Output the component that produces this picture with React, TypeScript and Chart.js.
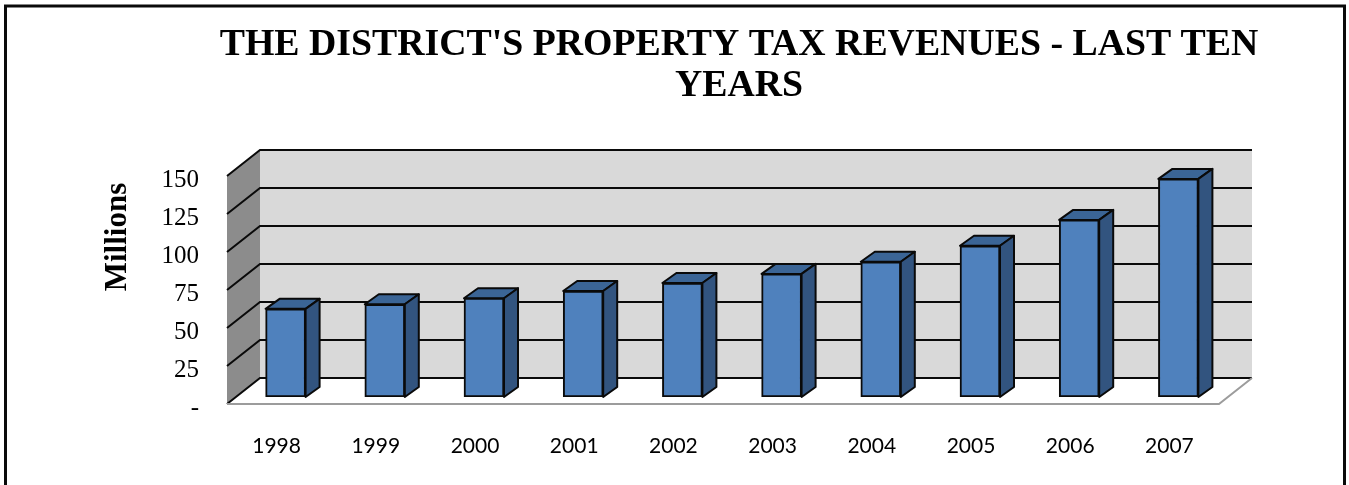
import React, { useEffect, useRef } from "react";
import { Chart, registerables } from "chart.js";

Chart.register(...registerables);

const categories = ["1998", "1999", "2000", "2001", "2002", "2003", "2004", "2005", "2006", "2007"];
const revenues = [58, 61, 65, 69.7, 75, 81, 89, 99.5, 116.5, 143.5];
const titleLines = ["THE DISTRICT'S PROPERTY TAX REVENUES - LAST TEN", "YEARS"];
const yAxisLabel = "Millions";

const SERIF = '"Liberation Serif", serif';

const wallsAndDepth = {
  id: "wallsAndDepth",
  beforeDatasetsDraw(chart: any) {
    const { ctx, chartArea, scales } = chart;
    const y = scales.y;
    const { left, right } = chartArea;
    const back = { dx: 24, dy: -19 };
    const front = { dx: -9, dy: 7 };
    const yMax = y.getPixelForValue(150);
    const y0 = y.getPixelForValue(0);
    ctx.save();
    // back wall
    ctx.fillStyle = "#D9D9D9";
    ctx.fillRect(left + back.dx, yMax + back.dy, right - left, y0 - yMax);
    // side wall
    ctx.fillStyle = "#8C8C8C";
    ctx.beginPath();
    ctx.moveTo(left + front.dx, yMax + front.dy);
    ctx.lineTo(left + back.dx, yMax + back.dy);
    ctx.lineTo(left + back.dx, y0 + back.dy);
    ctx.lineTo(left + front.dx, y0 + front.dy);
    ctx.closePath();
    ctx.fill();
    // gridlines on both walls
    ctx.strokeStyle = "#0A0A0A";
    ctx.lineWidth = 2;
    for (const t of y.ticks) {
      const py = y.getPixelForValue(t.value);
      ctx.beginPath();
      ctx.moveTo(left + front.dx, py + front.dy);
      ctx.lineTo(left + back.dx, py + back.dy);
      ctx.lineTo(right + back.dx, py + back.dy);
      ctx.stroke();
    }
    // floor edge
    ctx.strokeStyle = "#9C9C9C";
    ctx.lineWidth = 2;
    ctx.beginPath();
    ctx.moveTo(left + front.dx, y0 + front.dy);
    ctx.lineTo(right + front.dx, y0 + front.dy);
    ctx.lineTo(right + back.dx, y0 + back.dy);
    ctx.stroke();
    // side faces of the bars
    const depthX = 14;
    const depthY = -10;
    const meta = chart.getDatasetMeta(0);
    ctx.strokeStyle = "#0A0A0A";
    ctx.lineWidth = 2;
    ctx.lineJoin = "round";
    for (const bar of meta.data) {
      const l = bar.x - bar.width / 2;
      const r = bar.x + bar.width / 2;
      const t = bar.y;
      const b = bar.base;
      ctx.fillStyle = "#3B6596";
      ctx.beginPath();
      ctx.moveTo(l, t);
      ctx.lineTo(l + depthX, t + depthY);
      ctx.lineTo(r + depthX, t + depthY);
      ctx.lineTo(r, t);
      ctx.closePath();
      ctx.fill();
      ctx.stroke();
      ctx.fillStyle = "#32547F";
      ctx.beginPath();
      ctx.moveTo(r, t);
      ctx.lineTo(r + depthX, t + depthY);
      ctx.lineTo(r + depthX, b + depthY);
      ctx.lineTo(r, b);
      ctx.closePath();
      ctx.fill();
      ctx.stroke();
    }
    ctx.restore();
  },
  afterDraw(chart: any) {
    const { ctx, width } = chart;
    ctx.save();
    // rotated axis label
    ctx.translate(118, 237);
    ctx.rotate(-Math.PI / 2);
    ctx.font = `bold 31px ${SERIF}`;
    ctx.fillStyle = "#000000";
    ctx.textAlign = "center";
    ctx.textBaseline = "middle";
    ctx.fillText(yAxisLabel, 0, 0);
    ctx.restore();
    // frame around the picture
    ctx.save();
    ctx.strokeStyle = "#0A0A0A";
    ctx.lineWidth = 3;
    ctx.beginPath();
    ctx.moveTo(5.5, 490);
    ctx.lineTo(5.5, 6);
    ctx.lineTo(width - 4.5, 6);
    ctx.lineTo(width - 4.5, 490);
    ctx.stroke();
    ctx.restore();
  },
};

export default function App() {
  const ref = useRef<HTMLCanvasElement | null>(null);
  useEffect(() => {
    if (!ref.current) return;
    const chart = new Chart(ref.current, {
      type: "bar",
      data: {
        labels: categories,
        datasets: [
          {
            label: "Property tax revenues",
            data: revenues,
            backgroundColor: "#4F81BD",
            borderColor: "#0A0A0A",
            borderWidth: 2,
            borderSkipped: false,
            barThickness: 40,
            yAxisID: "y",
          },
        ],
      },
      options: {
        responsive: false,
        animation: false,
        devicePixelRatio: 1,
        layout: { padding: { left: 129, right: 0, top: 0, bottom: 0 } },
        plugins: {
          legend: { display: false },
          tooltip: { enabled: false },
          title: {
            display: true,
            text: titleLines,
            color: "#000000",
            font: { family: SERIF, size: 37.8, weight: "bold", lineHeight: 41 / 37.8 },
            padding: { top: 25, bottom: 62 },
          },
        },
        scales: {
          x: {
            grid: { display: false },
            border: { display: false },
            afterFit: (s: any) => {
              s.height = 88;
            },
            ticks: {
              color: "#000000",
              font: { family: "Lato", size: 21 },
              padding: 29,
              labelOffset: -9,
              autoSkip: false,
              maxRotation: 0,
            },
          },
          y: {
            min: 0,
            max: 150,
            grid: { display: false },
            border: { display: false },
            afterFit: (s: any) => {
              s.width = 107;
            },
            ticks: {
              stepSize: 25,
              color: "#000000",
              font: { family: SERIF, size: 25 },
              padding: 29,
              labelOffset: 11,
              callback: (v: any) => (v === 0 ? "-" : String(v)),
            },
          },
          yRight: {
            axis: "y",
            position: "right",
            grid: { display: false },
            border: { display: false },
            ticks: { display: false },
            afterFit: (s: any) => {
              s.width = 121;
            },
          },
        },
      } as any,
      plugins: [wallsAndDepth],
    });
    return () => chart.destroy();
  }, []);
  return (
    <div style={{ position: "absolute", left: 0, top: 0, width: 1349, height: 485, overflow: "hidden", background: "#fff" }}>
      <canvas ref={ref} width={1349} height={485} style={{ display: "block" }} />
    </div>
  );
}
